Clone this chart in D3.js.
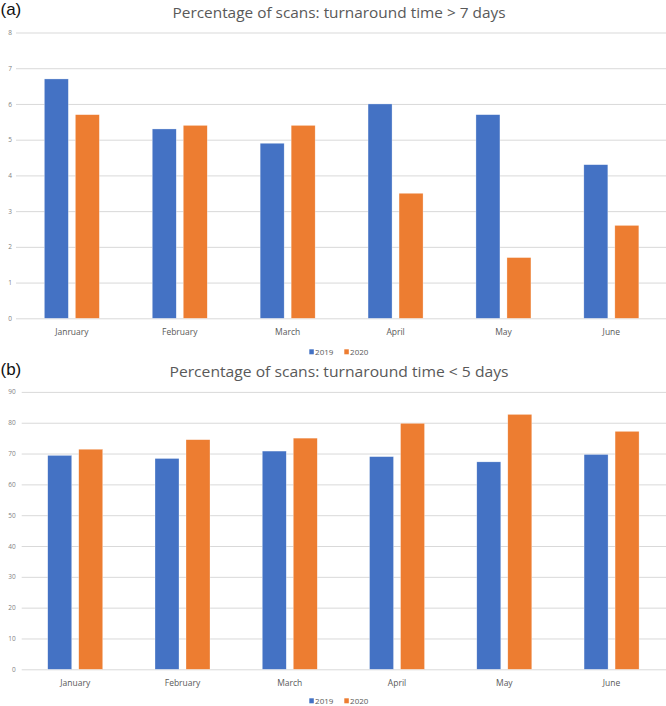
<!DOCTYPE html>
<html>
<head>
<meta charset="utf-8">
<script src="https://cdn.jsdelivr.net/npm/d3@7"></script>
<style>
  html, body { margin: 0; padding: 0; background: #fff; }
  svg { display: block; }
</style>
</head>
<body>
<svg id="chart" width="666" height="706"></svg>
<script>
// ---- data ----
const series = ["2019", "2020"];
const categoriesA = ["Janruary", "February", "March", "April", "May", "June"];
const categoriesB = ["January", "February", "March", "April", "May", "June"];
const valuesA2019 = [6.7, 5.3, 4.9, 6.0, 5.7, 4.3];
const valuesA2020 = [5.7, 5.4, 5.4, 3.5, 1.7, 2.6];
const valuesB2019 = [69.4, 68.4, 70.8, 69.0, 67.3, 69.7];
const valuesB2020 = [71.4, 74.5, 75.0, 79.8, 82.7, 77.2];
const ticksA = [0, 1, 2, 3, 4, 5, 6, 7, 8];
const ticksB = [0, 10, 20, 30, 40, 50, 60, 70, 80, 90];
const titleA = "Percentage of scans: turnaround time > 7 days";
const titleB = "Percentage of scans: turnaround time < 5 days";
const colors = ["#4472C4", "#ED7D31"];

const svg = d3.select("#chart");

function panel(cfg) {
  const g = svg.append("g");
  const y = d3.scaleLinear().domain([0, cfg.max]).range([cfg.y0, cfg.yTop]);
  const x0 = d3.scaleBand().domain(cfg.categories).range([cfg.xLeft, cfg.xRight]).paddingInner(0).paddingOuter(0);
  const x1 = d3.scaleBand().domain(series).range([-27.5, 27.5]).paddingInner(0.226);
  const color = d3.scaleOrdinal().domain(series).range(colors);

  // panel letter
  g.append("text").attr("x", 0.5).attr("y", cfg.letterY)
    .attr("font-family", "Liberation Sans, Arial, sans-serif").attr("font-size", 17)
    .attr("fill", "#111").text(cfg.letter);

  // title
  g.append("text").attr("x", 339).attr("y", cfg.titleY).attr("text-anchor", "middle")
    .attr("font-family", "Open Sans, sans-serif").attr("font-size", 14)
    .attr("fill", "#595959")
    .attr("textLength", cfg.titleLen).attr("lengthAdjust", "spacingAndGlyphs")
    .text(cfg.title);

  // y axis with gridlines
  const ya = g.append("g").attr("transform", `translate(${cfg.gridStart},0)`)
    .call(d3.axisLeft(y).tickValues(cfg.ticks).tickSize(-(666 - cfg.gridStart)).tickPadding(cfg.tickPad).tickFormat(d3.format("d")));
  ya.select(".domain").remove();
  ya.selectAll(".tick line").attr("stroke", "#d9d9d9").attr("stroke-width", 1);
  ya.selectAll(".tick text").attr("font-family", "Open Sans, sans-serif").attr("font-size", 6.5).attr("fill", "#7f7f7f");

  // bars
  const rows = cfg.categories.map((c, i) => ({ cat: c, vals: series.map((s, j) => ({ s, v: cfg.values[j][i] })) }));
  const grp = g.append("g").selectAll("g").data(rows).join("g")
    .attr("transform", d => `translate(${x0(d.cat) + x0.bandwidth() / 2},0)`);
  grp.selectAll("rect").data(d => d.vals).join("rect")
    .attr("x", d => x1(d.s)).attr("width", x1.bandwidth())
    .attr("y", d => y(d.v)).attr("height", d => y(0) - y(d.v))
    .attr("fill", d => color(d.s)).attr("stroke", "#ffffff").attr("stroke-width", 0.5).attr("stroke-opacity", 0.6);

  // x axis labels
  const xa = g.append("g").attr("transform", `translate(0,${cfg.y0})`)
    .call(d3.axisBottom(x0).tickSize(0).tickPadding(11));
  xa.select(".domain").remove();
  xa.selectAll(".tick text").attr("font-family", "Open Sans, sans-serif").attr("font-size", 8.5).attr("fill", "#595959");

  // legend
  const ly = cfg.y0 + cfg.legendOff;
  const legendX = [309.3, 344.3];
  const lg = g.append("g").selectAll("g").data(series).join("g")
    .attr("transform", (d, i) => `translate(${legendX[i]},${ly})`);
  lg.append("rect").attr("x", 0).attr("y", -2.5).attr("width", 4.5).attr("height", 5).attr("fill", d => color(d));
  lg.append("text").attr("x", 5.8).attr("y", 3).attr("font-family", "Open Sans, sans-serif")
    .attr("font-size", 8).attr("fill", "#595959").text(d => d);
}

panel({
  letter: "(a)", letterY: 15.4, title: titleA, titleY: 17.5, titleLen: 333,
  categories: categoriesA, values: [valuesA2019, valuesA2020], ticks: ticksA, max: 8,
  y0: 318.3, yTop: 32.5, xLeft: 17.9, xRight: 665.3, gridStart: 16, tickPad: 4, legendOff: 33.5
});
panel({
  letter: "(b)", letterY: 374.6, title: titleB, titleY: 377.4, titleLen: 339,
  categories: categoriesB, values: [valuesB2019, valuesB2020], ticks: ticksB, max: 90,
  y0: 669.3, yTop: 391.9, xLeft: 21.6, xRight: 665.2, gridStart: 21.7, tickPad: 6, legendOff: 31.5
});
</script>
</body>
</html>
